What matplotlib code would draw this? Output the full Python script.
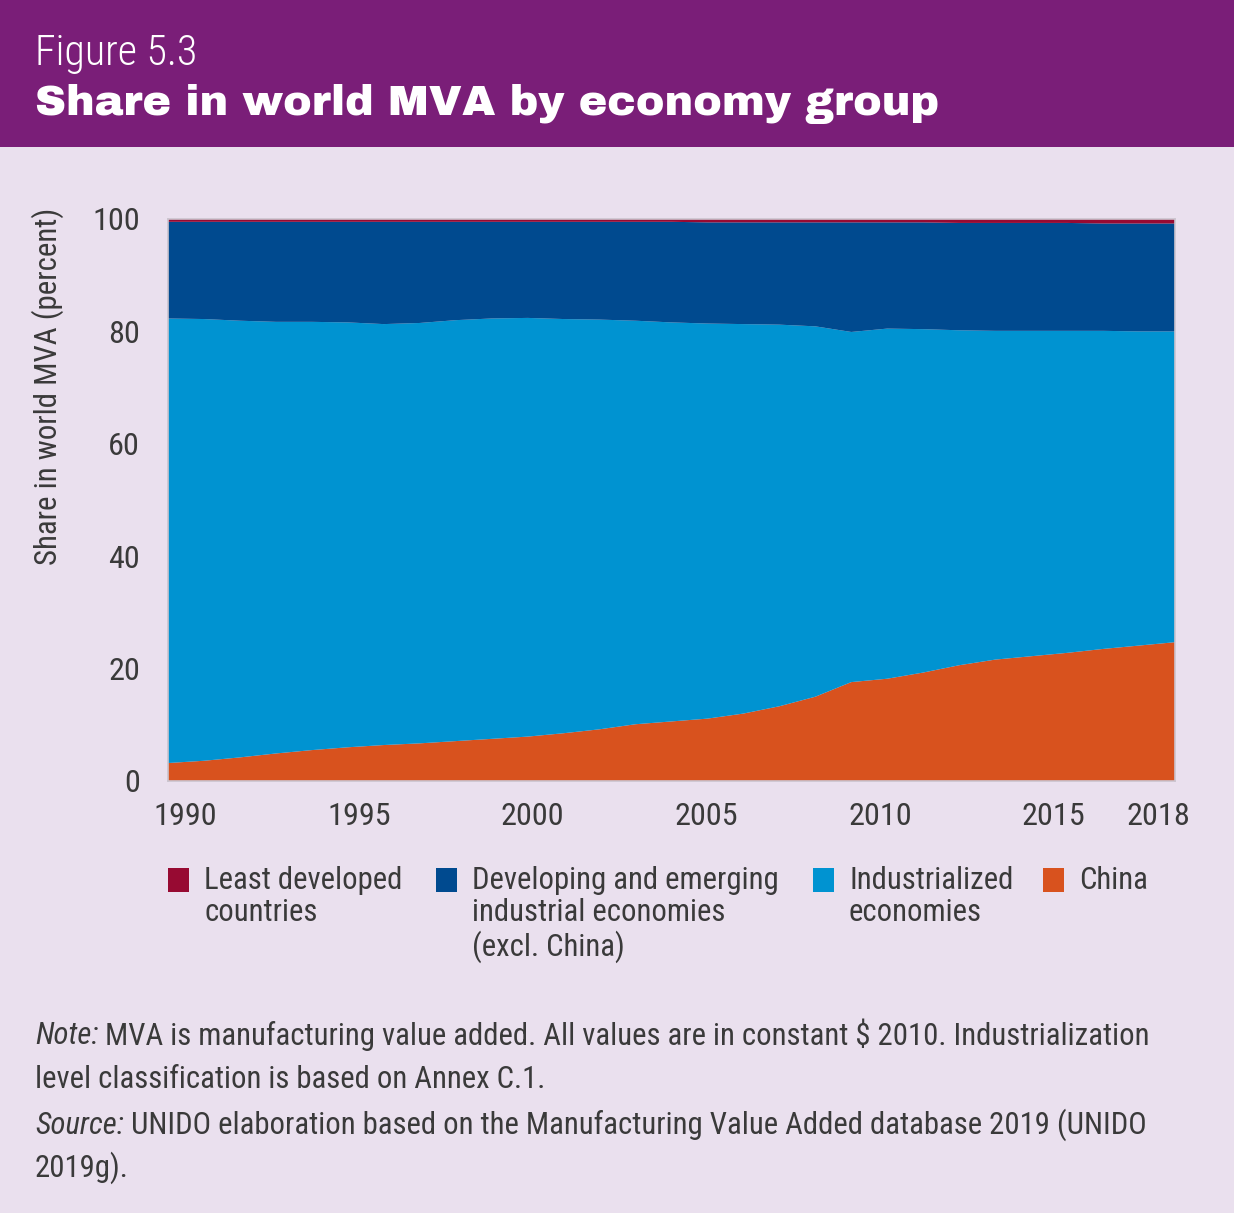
import numpy as np
import matplotlib.pyplot as plt
from matplotlib import font_manager as fm
from matplotlib.patches import Rectangle

# Share in world MVA (percent), 1990-2018
years = np.arange(1990, 2019)
china = [3.2, 3.6, 4.2, 4.9, 5.5, 6.0, 6.4, 6.7, 7.1, 7.5,
         7.9, 8.5, 9.2, 10.1, 10.6, 11.1, 12.0, 13.3, 15.0, 17.6,
         18.2, 19.3, 20.6, 21.6, 22.2, 22.8, 23.5, 24.1, 24.7]
industrialized = [79.1, 78.6, 77.7, 76.8, 76.2, 75.6, 74.9, 74.8, 74.9, 74.8,
                  74.5, 73.7, 72.9, 71.8, 71.0, 70.3, 69.3, 67.9, 65.9, 62.3,
                  62.3, 61.1, 59.6, 58.5, 57.9, 57.3, 56.6, 55.9, 55.3]
least_developed = [0.5, 0.5, 0.5, 0.5, 0.5, 0.5, 0.5, 0.5, 0.5, 0.5,
                   0.5, 0.5, 0.5, 0.5, 0.5, 0.6, 0.6, 0.6, 0.6, 0.6,
                   0.6, 0.6, 0.7, 0.7, 0.7, 0.7, 0.8, 0.8, 0.8]
# remainder of the world total goes to developing and emerging economies
developing = 100 - np.array(china) - np.array(industrialized) - np.array(least_developed)

xtick_years = [1990, 1995, 2000, 2005, 2010, 2015, 2018]
yticks = [0, 20, 40, 60, 80, 100]

labels = ["Least developed\ncountries",
          "Developing and emerging\nindustrial economies\n(excl. China)",
          "Industrialized\neconomies",
          "China"]

c_ldc = "#970A32"
c_dev = "#004A8F"
c_ind = "#0093D1"
c_chn = "#D8521E"
purple = "#7A1E78"
bg = "#EAE0EE"
txt = "#3A3A3A"

installed = {f.name for f in fm.fontManager.ttflist}

def pick(cands, default="DejaVu Sans"):
    for c in cands:
        if c in installed:
            return c
    return default

narrow = pick(["Roboto Condensed", "Liberation Sans Narrow", "Archivo Narrow", "PT Sans Narrow",
               "Fira Sans Condensed", "IBM Plex Sans Condensed", "Barlow Condensed",
               "Open Sans Condensed", "Asap Condensed", "Encode Sans Condensed"])
heavy = pick(["Archivo Black", "Roboto", "Inter", "Lato"])
plt.rcParams["font.family"] = [narrow, "DejaVu Sans"]

W, H = 1234, 1213
fig = plt.figure(figsize=(W / 100, H / 100), dpi=100, facecolor=bg)
renderer = fig.canvas.get_renderer()

def fx(px):
    return px / W

def fy(py):
    return 1 - py / H

def fit(t, target, axis="w"):
    # scale a text's font size so it spans the given number of pixels
    for _ in range(3):
        bb = t.get_window_extent(renderer)
        cur = bb.width if axis == "w" else bb.height
        t.set_fontsize(t.get_fontsize() * target / cur)
    return t

# header band
fig.patches.append(Rectangle((0, fy(147)), 1, 147 / H, transform=fig.transFigure,
                             facecolor=purple, edgecolor="none", zorder=0))
t = fig.text(fx(35), fy(53), "Figure 5.3", color="white", fontsize=30, va="center",
             ha="left", fontweight="light")
fit(t, 163)
t = fig.text(fx(35), fy(104), "Share in world MVA by economy group", color="white",
             fontsize=31, fontweight="black", va="center", ha="left", family=heavy)
fit(t, 905)

ax = fig.add_axes([fx(168), fy(781), fx(1175 - 168), (781 - 219) / H])
ax.set_facecolor(bg)
ax.stackplot(years, china, industrialized, developing, least_developed,
             colors=[c_chn, c_ind, c_dev, c_ldc], linewidth=0)
ax.set_xlim(1990, 2018)
ax.set_ylim(0, 100)

# year labels sit slightly inside the plot edges
span = 2018 - 1990
inset = 17 / (1175 - 168) * span
ax.set_xticks([1990 + inset + (y - 1990) * (span - 2 * inset) / span for y in xtick_years])
ax.set_xticklabels([str(y) for y in xtick_years])
ax.set_yticks(yticks)

probe = fig.text(0, 0, "2018", fontsize=20)
fit(probe, 64)
tick_fs = probe.get_fontsize()
probe.remove()
ax.tick_params(length=0, labelsize=tick_fs, colors=txt, pad=15)
ax.tick_params(axis="y", pad=20)
for s in ax.spines.values():
    s.set_color("#CBC4CE")
    s.set_linewidth(1.2)

t = fig.text(fx(48), fy(208), "Share in world MVA (percent)", rotation=90, ha="center",
             va="top", fontsize=21, color=txt)
fit(t, 357, axis="h")

# legend
probe = fig.text(0, 0, "Developing and emerging", fontsize=22)
fit(probe, 308)
leg_fs = probe.get_fontsize()
probe.remove()
leg_x = [168, 436, 813, 1043]
for x0, col, lab in zip(leg_x, [c_ldc, c_dev, c_ind, c_chn], labels):
    fig.patches.append(Rectangle((fx(x0), fy(892)), fx(21), 24 / H,
                                 transform=fig.transFigure, facecolor=col, edgecolor="none"))
    fig.text(fx(x0 + 36), fy(866), lab, ha="left", va="top", fontsize=leg_fs,
             color=txt, linespacing=1.14)

# note and source
probe = fig.text(0, 0, "level classification is based on Annex C.1.", fontsize=22)
fit(probe, 510)
note_fs = probe.get_fontsize()
probe.remove()
lines = [("Note:", " MVA is manufacturing value added. All values are in constant $ 2010. Industrialization", 1035),
         ("", "level classification is based on Annex C.1.", 1080),
         ("Source:", " UNIDO elaboration based on the Manufacturing Value Added database 2019 (UNIDO", 1125),
         ("", "2019g).", 1168)]
for ital, rest, ypx in lines:
    x = fx(35)
    if ital:
        t = fig.text(x, fy(ypx), ital, style="italic", fontsize=note_fs, color=txt, va="center")
        x = t.get_window_extent(renderer).x1 / W
    fig.text(x, fy(ypx), rest, fontsize=note_fs, color=txt, va="center")

fig.savefig("out.png", dpi=100, facecolor=bg)
